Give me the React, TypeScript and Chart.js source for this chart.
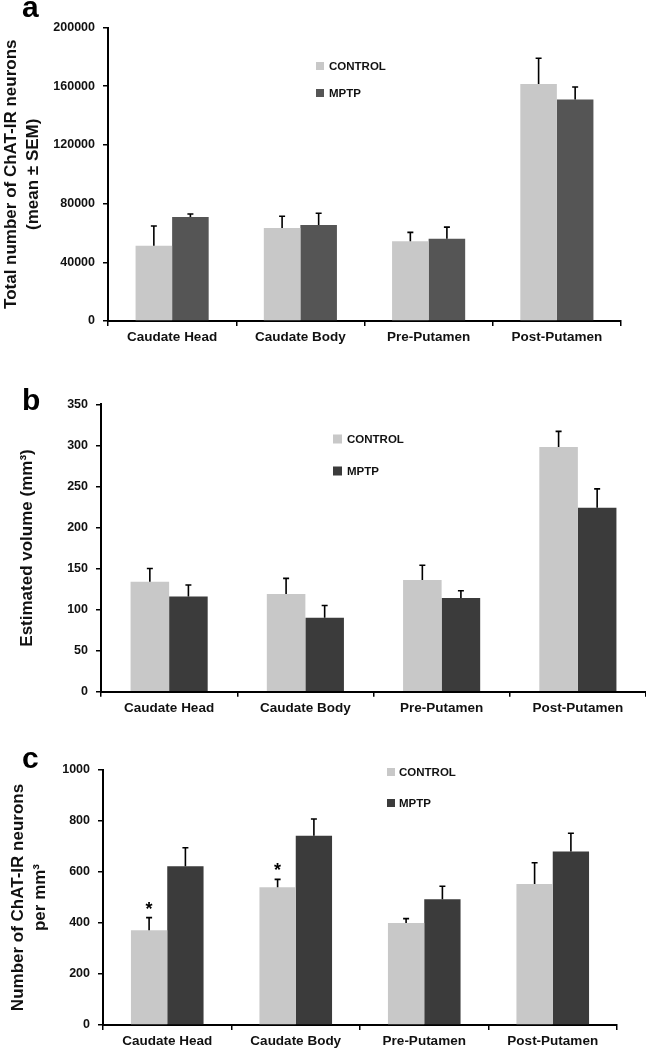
import React, { useEffect, useRef } from "react";
import { Chart, registerables } from "chart.js";

Chart.register(...registerables);

const FONT = "'Liberation Sans', Arial, Helvetica, sans-serif";

// ---------- data ----------
const categories = ["Caudate Head", "Caudate Body", "Pre-Putamen", "Post-Putamen"];
const seriesNames = ["CONTROL", "MPTP"];

// Panel a: total number of ChAT-IR neurons
const aControl = [51300, 63400, 54300, 161500];
const aControlSem = [13400, 8000, 6100, 17500];
const aMptp = [70900, 65400, 56100, 151000];
const aMptpSem = [2000, 8000, 7900, 8500];

// Panel b: estimated volume (mm3)
const bControl = [134, 119, 136, 298];
const bControlSem = [16, 19, 18, 19];
const bMptp = [116, 90, 114, 224];
const bMptpSem = [14, 15, 9, 23];

// Panel c: ChAT-IR neurons per mm3
const cControl = [372, 540, 400, 553];
const cControlSem = [49, 31, 17, 83];
const cMptp = [623, 742, 493, 680];
const cMptpSem = [72, 66, 51, 72];
const cControlSig = ["*", "*", "", ""];

const controlColor = "#c8c8c8";

// ---------- plugins ----------
const errorBarPlugin = {
  id: "errorBars",
  afterDatasetsDraw(chart: any) {
    const { ctx } = chart;
    const y = chart.scales.y;
    chart.data.datasets.forEach((ds: any, di: number) => {
      const meta = chart.getDatasetMeta(di);
      const errs = ds.errors || [];
      const marks = ds.marks || [];
      meta.data.forEach((bar: any, i: number) => {
        const v = ds.data[i];
        const top = y.getPixelForValue(v + (errs[i] || 0));
        ctx.save();
        ctx.strokeStyle = "#000";
        ctx.lineWidth = 1.6;
        ctx.beginPath();
        ctx.moveTo(bar.x, bar.y);
        ctx.lineTo(bar.x, top);
        ctx.moveTo(bar.x - 3, top);
        ctx.lineTo(bar.x + 3, top);
        ctx.stroke();
        if (marks[i]) {
          ctx.fillStyle = "#000";
          ctx.font = `bold 18px ${FONT}`;
          ctx.textAlign = "center";
          ctx.textBaseline = "alphabetic";
          ctx.fillText(marks[i], bar.x, top - 3);
        }
        ctx.restore();
      });
    });
  },
};

const boxLegendPlugin = {
  id: "boxLegend",
  afterDraw(chart: any, _args: any, opts: any) {
    const { ctx } = chart;
    chart.data.datasets.forEach((ds: any, di: number) => {
      const cy = opts.ys[di];
      ctx.save();
      ctx.fillStyle = ds.backgroundColor;
      ctx.fillRect(opts.x, cy - opts.size / 2, opts.size, opts.size);
      ctx.fillStyle = "#111";
      ctx.font = `bold ${opts.fontSize}px ${FONT}`;
      ctx.textAlign = "left";
      ctx.textBaseline = "middle";
      ctx.fillText(ds.label, opts.textX, cy + 0.5);
      ctx.restore();
    });
  },
};

type PanelSpec = {
  width: number;
  height: number;
  box: { left: number; right: number; top: number; bottom: number };
  control: number[];
  controlSem: number[];
  controlMarks?: string[];
  mptp: number[];
  mptpSem: number[];
  mptpColor: string;
  yMax: number;
  yStep: number;
  title: string | string[];
  titlePad: number;
  titleLineHeight: number;
  catPct: number;
  legend: { x: number; textX: number; ys: number[]; size: number; fontSize: number };
};

function Panel({ spec, top }: { spec: PanelSpec; top: number }) {
  const ref = useRef<HTMLCanvasElement | null>(null);
  useEffect(() => {
    if (!ref.current) return;
    const s = spec;
    const chart = new Chart(ref.current, {
      type: "bar",
      data: {
        labels: categories,
        datasets: [
          {
            label: seriesNames[0],
            data: s.control,
            backgroundColor: controlColor,
            borderWidth: 0,
            categoryPercentage: s.catPct,
            barPercentage: 1,
            errors: s.controlSem,
            marks: s.controlMarks || [],
          } as any,
          {
            label: seriesNames[1],
            data: s.mptp,
            backgroundColor: s.mptpColor,
            borderWidth: 0,
            categoryPercentage: s.catPct,
            barPercentage: 1,
            errors: s.mptpSem,
          } as any,
        ],
      },
      options: {
        responsive: false,
        animation: false,
        devicePixelRatio: 1,
        layout: {
          padding: {
            left: 0,
            top: s.box.top,
            right: s.width - s.box.right,
            bottom: 0,
          },
        },
        plugins: {
          legend: { display: false },
          title: { display: false },
          tooltip: { enabled: false },
          boxLegend: s.legend,
        } as any,
        scales: {
          x: {
            grid: {
              display: true,
              drawOnChartArea: false,
              drawTicks: true,
              tickLength: 5,
              color: "#000",
              lineWidth: 1.5,
              offset: true,
            },
            border: { display: true, color: "#000", width: 2 },
            ticks: {
              color: "#111",
              font: { family: FONT, size: 13.5, weight: "bold" },
              padding: 3,
              maxRotation: 0,
              autoSkip: false,
            },
            afterFit: (scale: any) => {
              scale.height = s.height - s.box.bottom;
            },
          },
          y: {
            min: 0,
            max: s.yMax,
            grid: {
              display: true,
              drawOnChartArea: false,
              drawTicks: true,
              tickLength: 5,
              color: "#000",
              lineWidth: 1.5,
            },
            border: { display: true, color: "#000", width: 2 },
            ticks: {
              stepSize: s.yStep,
              color: "#111",
              font: { family: FONT, size: 12.5, weight: "bold" },
              padding: 8,
              callback: (v: any) => String(v),
            },
            title: {
              display: true,
              text: s.title,
              color: "#111",
              font: { family: FONT, size: 17, weight: "bold", lineHeight: s.titleLineHeight },
              padding: { top: s.titlePad, bottom: 0 },
            },
            afterFit: (scale: any) => {
              scale.width = s.box.left;
            },
          },
        },
      },
      plugins: [errorBarPlugin, boxLegendPlugin],
    });
    return () => chart.destroy();
  }, [spec]);
  return (
    <canvas
      ref={ref}
      width={spec.width}
      height={spec.height}
      style={{ position: "absolute", left: 0, top, width: spec.width, height: spec.height }}
    />
  );
}

const specA: PanelSpec = {
  width: 646,
  height: 352,
  box: { left: 108, right: 621, top: 27.5, bottom: 321 },
  control: aControl,
  controlSem: aControlSem,
  mptp: aMptp,
  mptpSem: aMptpSem,
  mptpColor: "#555555",
  yMax: 200000,
  yStep: 40000,
  title: ["Total number of ChAT-IR neurons", "(mean ± SEM)"],
  titlePad: 0,
  titleLineHeight: 1.3,
  catPct: 0.57,
  legend: { x: 316, textX: 329, ys: [66, 93], size: 8, fontSize: 11.5 },
};

const specB: PanelSpec = {
  width: 646,
  height: 368,
  box: { left: 101, right: 646, top: 52.3, bottom: 339.7 },
  control: bControl,
  controlSem: bControlSem,
  mptp: bMptp,
  mptpSem: bMptpSem,
  mptpColor: "#3b3b3b",
  yMax: 350,
  yStep: 50,
  title: "Estimated volume (mm³)",
  titlePad: 17,
  titleLineHeight: 1.2,
  catPct: 0.566,
  legend: { x: 333, textX: 347, ys: [87, 119], size: 9, fontSize: 11.5 },
};

const specC: PanelSpec = {
  width: 646,
  height: 330,
  box: { left: 103, right: 617, top: 50, bottom: 305 },
  control: cControl,
  controlSem: cControlSem,
  controlMarks: cControlSig,
  mptp: cMptp,
  mptpSem: cMptpSem,
  mptpColor: "#3b3b3b",
  yMax: 1000,
  yStep: 200,
  title: ["Number of ChAT-IR neurons", "per mm³"],
  titlePad: 7,
  titleLineHeight: 1.3,
  catPct: 0.565,
  legend: { x: 387, textX: 399, ys: [52, 83], size: 8, fontSize: 11.5 },
};

const letterStyle: React.CSSProperties = {
  position: "absolute",
  fontFamily: FONT,
  fontWeight: "bold",
  fontSize: 30,
  lineHeight: "30px",
  color: "#000",
};

export default function App() {
  return (
    <div
      style={{
        position: "absolute",
        left: 0,
        top: 0,
        width: 646,
        height: 1050,
        background: "#fff",
        overflow: "hidden",
      }}
    >
      <Panel spec={specA} top={0} />
      <Panel spec={specB} top={352} />
      <Panel spec={specC} top={720} />
      <div style={{ ...letterStyle, left: 22, top: -8 }}>a</div>
      <div style={{ ...letterStyle, left: 22, top: 385 }}>b</div>
      <div style={{ ...letterStyle, left: 22, top: 743 }}>c</div>
    </div>
  );
}
